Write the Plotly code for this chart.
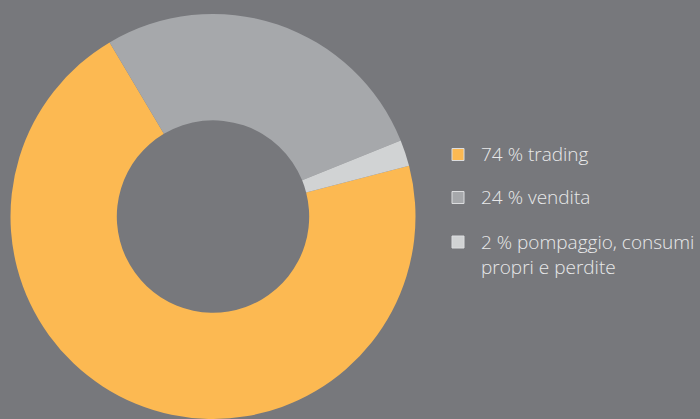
import plotly.graph_objects as go

# Data (angles; legend texts as printed)
labels = ["74 % trading", "24 % vendita", "2 % pompaggio, consumi<br>propri e perdite"]
values = [70.5, 27.4, 2.1]
colors = ["#fcb952", "#a6a8ab", "#d1d3d4"]

W, H = 700, 419
MT = 14
BG = "#77787c"
TXT = "#e8e9ea"

def px_x(x):
    return x / W

def px_y(y):
    return (H - y) / (H - MT)

fig = go.Figure()
fig.add_trace(go.Pie(
    labels=labels,
    values=values,
    hole=0.475,
    sort=False,
    direction="clockwise",
    rotation=75.5,
    marker=dict(colors=colors, line=dict(width=0)),
    textinfo="none",
    hoverinfo="label",
    showlegend=False,
    domain=dict(x=[px_x(10.5), px_x(415.5)], y=[0, 1]),
))

# manual legend
item_y = [154.5, 197.5, 242]
text_y = [153.5, 196.5, 254.5]
shapes = []
annotations = []
for i, lab in enumerate(labels):
    cy = item_y[i]
    shapes.append(dict(
        type="rect", xref="paper", yref="paper",
        x0=px_x(452), x1=px_x(464), y0=px_y(cy + 6), y1=px_y(cy - 6),
        fillcolor=colors[i], line=dict(color="#dcdddf", width=1),
    ))
    annotations.append(dict(
        x=px_x(479), y=px_y(text_y[i]), xref="paper", yref="paper",
        text=lab, showarrow=False, xanchor="left", yanchor="middle",
        align="left",
        font=dict(family="Open Sans, sans-serif", size=19, color=TXT, weight=300),
    ))

fig.update_layout(
    width=W, height=H,
    margin=dict(l=0, r=0, t=MT, b=0, pad=0),
    paper_bgcolor=BG, plot_bgcolor=BG,
    shapes=shapes,
    annotations=annotations,
)

fig.write_html(
    "out.html",
    config={"displayModeBar": False},
    post_script="document.body.style.margin='0';document.body.style.overflow='hidden';document.body.style.background='%s';" % BG,
)
